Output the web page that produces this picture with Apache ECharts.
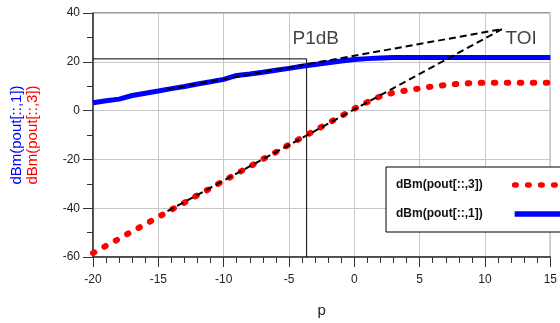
<!DOCTYPE html>
<html>
<head>
<meta charset="utf-8">
<script src="https://cdn.jsdelivr.net/npm/echarts@6/dist/echarts.min.js"></script>
<style>
  html, body { margin: 0; padding: 0; background: #fff; }
  #chart { width: 560px; height: 323px; }
</style>
</head>
<body>
<div id="chart"></div>
<script>
// input power sweep
const pIn = [-20, -19, -18, -17, -16, -15, -14, -13, -12, -11, -10, -9, -8, -7, -6, -5, -4, -3, -2, -1,
    0, 1, 2, 3, 4, 5, 6, 7, 8, 9, 10, 11, 12, 13, 14, 15];

// fundamental output, dBm(pout[::,1])
const pout1 = [3.2, 4.0, 4.7, 6.2, 7.1, 8.0, 9.0, 9.9, 10.9, 11.8, 12.8, 14.4, 15.0, 15.7, 16.5, 17.3, 18.2, 18.9, 19.6, 20.3,
    20.9, 21.3, 21.6, 21.8, 21.8, 21.8, 21.8, 21.8, 21.8, 21.8, 21.8, 21.8, 21.8, 21.8, 21.8, 21.8];

// third-order product, dBm(pout[::,3])
const pout3 = [-58.4, -55.4, -52.5, -49.5, -46.6, -43.6, -40.6, -37.7, -34.7, -31.8, -28.8, -25.8, -22.9, -19.9, -17.0, -14.0, -11.0, -8.1, -5.1, -2.2,
    0.8, 3.5, 5.9, 7.3, 8.3, 9.1, 9.9, 10.5, 11.0, 11.3, 11.4, 11.4, 11.4, 11.4, 11.4, 11.4];

// extrapolation lines meeting at the intercept point
const fundExt = [[-14.3, 8.7], [11.3, 33.4]];
const im3Ext = [[-14.3, -41.2], [11.3, 33.4]];

// 1 dB compression marker
const p1dbMark = [[-20, 21.2], [-3.65, 21.2], [-3.65, -60]];

// text annotations
const notes = [
    { name: 'P1dB', value: [-2.95, 29.6] },
    { name: 'TOI', value: [12.76, 29.6] }
];

const xTicks = { min: -20, max: 15, interval: 5 };
const yTicks = { min: -60, max: 40, interval: 20 };

const font = '"Liberation Sans", Arial, sans-serif';

function zip(xs, ys) {
    return xs.map((x, i) => [x, ys[i]]);
}

const chart = echarts.init(document.getElementById('chart'));

const option = {
    animation: false,
    textStyle: { fontFamily: font },
    grid: {
        left: 93, top: 13, right: 6, bottom: 64,
        show: true, borderColor: '#333', borderWidth: 1
    },
    legend: {
        data: ['dBm(pout[::,3])', 'dBm(pout[::,1])'],
        orient: 'vertical',
        left: 386, top: 167,
        align: 'right',
        padding: [12, 10, 12, 10],
        itemGap: 17,
        itemWidth: 60,
        itemHeight: 14,
        borderColor: '#000',
        borderWidth: 1,
        borderRadius: 0,
        backgroundColor: '#fff',
        // hide the symbol, keep only the line sample
        itemStyle: { opacity: 0 },
        lineStyle: { width: 5.5 },
        textStyle: { fontFamily: font, fontSize: 12, fontWeight: 'bold', color: '#111', padding: [0, 27, 0, 0] }
    },
    xAxis: {
        type: 'value',
        min: xTicks.min, max: xTicks.max, interval: xTicks.interval,
        name: 'p', nameLocation: 'middle', nameGap: 46,
        nameTextStyle: { fontSize: 15, color: '#222' },
        axisLine: { onZero: false, lineStyle: { color: '#333', width: 1.5 } },
        axisTick: { length: 10, lineStyle: { color: '#333' } },
        minorTick: { show: true, splitNumber: 5, length: 6, lineStyle: { color: '#333' } },
        axisLabel: { fontSize: 12, color: '#222', margin: 17 },
        splitLine: { lineStyle: { color: '#c8c8c8', width: 1 } }
    },
    yAxis: {
        type: 'value',
        min: yTicks.min, max: yTicks.max, interval: yTicks.interval,
        name: '{b|dBm(pout[::,1])}\n{r|dBm(pout[::,3])}',
        nameLocation: 'middle', nameGap: 52, nameRotate: 90,
        nameTextStyle: {
            rich: {
                b: { color: '#0000ff', fontSize: 15, lineHeight: 16 },
                r: { color: '#ff0000', fontSize: 15, lineHeight: 16 }
            }
        },
        axisLine: { onZero: false, lineStyle: { color: '#333', width: 1.5 } },
        axisTick: { length: 10, lineStyle: { color: '#333' } },
        minorTick: { show: true, splitNumber: 2, length: 6, lineStyle: { color: '#333' } },
        axisLabel: { fontSize: 12, color: '#222', margin: 13 },
        splitLine: { lineStyle: { color: '#c8c8c8', width: 1 } }
    },
    series: [
        {
            name: 'dBm(pout[::,1])',
            type: 'line',
            data: zip(pIn, pout1),
            symbol: 'none',
            color: '#0000ff',
            lineStyle: { color: '#0000ff', width: 5 },
            z: 3
        },
        {
            name: 'dBm(pout[::,3])',
            type: 'line',
            data: zip(pIn, pout3),
            symbol: 'none',
            color: '#ff0000',
            lineStyle: { color: '#ff0000', width: 6, type: [1.5, 11.5], cap: 'round' },
            z: 3
        },
        {
            name: 'p1db',
            type: 'line',
            data: p1dbMark,
            symbol: 'none',
            silent: true,
            lineStyle: { color: '#000', width: 1 },
            z: 2
        },
        {
            name: 'fundExt',
            type: 'line',
            data: fundExt,
            symbol: 'none',
            silent: true,
            lineStyle: { color: '#000', width: 2, type: [7, 4] },
            z: 4
        },
        {
            name: 'im3Ext',
            type: 'line',
            data: im3Ext,
            symbol: 'none',
            silent: true,
            lineStyle: { color: '#000', width: 2, type: [7, 4] },
            z: 4
        },
        {
            name: 'notes',
            type: 'scatter',
            data: notes,
            symbolSize: 0,
            silent: true,
            label: {
                show: true,
                position: 'inside',
                formatter: p => p.name,
                fontSize: 19,
                color: '#111'
            },
            z: 5
        }
    ]
};

chart.setOption(option);
</script>
</body>
</html>
